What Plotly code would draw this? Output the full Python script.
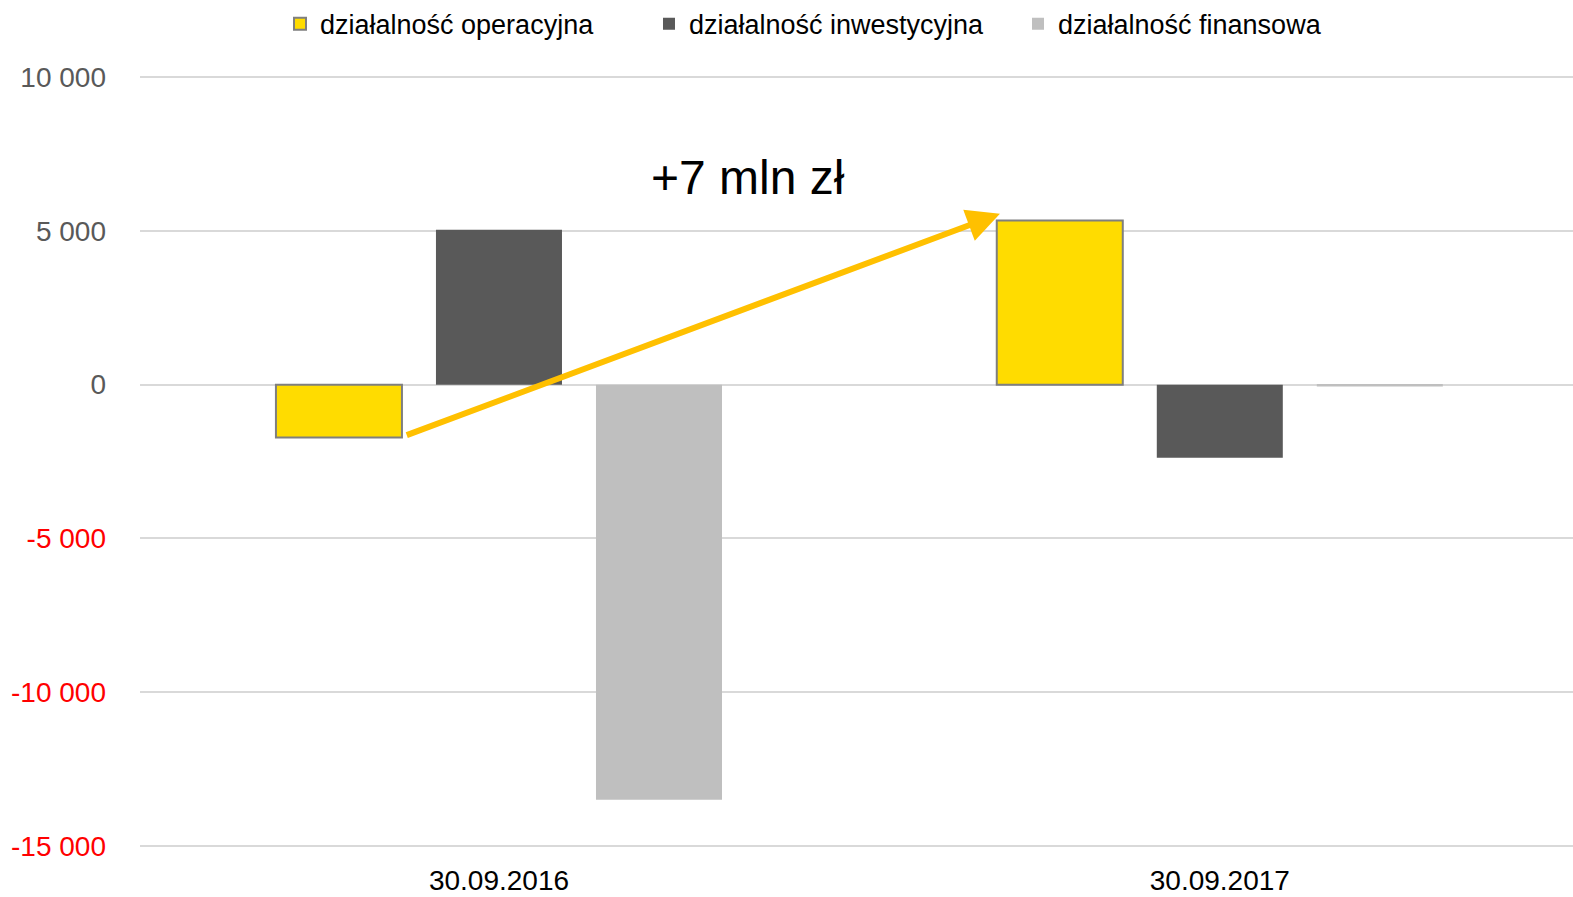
import plotly.graph_objects as go

categories = ["30.09.2016", "30.09.2017"]
series_names = ["działalność operacyjna", "działalność inwestycyjna", "działalność finansowa"]
operacyjna = [-1720, 5340]
inwestycyjna = [5040, -2380]
finansowa = [-13500, -60]
tick_vals = [10000, 5000, 0, -5000, -10000, -15000]
tick_text = ["10 000", "5 000", "0", "-5 000", "-10 000", "-15 000"]
arrow_label = "+7 mln zł"

colors = ["#FFDC00", "#595959", "#BFBFBF"]
line_colors = ["#7F7F7F", "#595959", "#BFBFBF"]
line_widths = [2, 0, 0]

fig = go.Figure()
for name, vals, c, lc, lw in zip(series_names, [operacyjna, inwestycyjna, finansowa], colors, line_colors, line_widths):
    fig.add_trace(go.Bar(
        x=categories, y=vals, name=name,
        marker=dict(color=c, line=dict(color=lc, width=lw)),
    ))

def tick_label(v, t):
    col = "#FF0000" if v < 0 else "#595959"
    return f"<span style='color:{col}'>{t}</span>"

fig.update_layout(
    width=1573, height=897,
    margin=dict(l=140, r=0, t=76, b=50, autoexpand=False),
    paper_bgcolor="white", plot_bgcolor="white",
    barmode="group", bargap=0.334, bargroupgap=0.2125,
    font=dict(family="Liberation Sans, Arial, sans-serif", color="#000000"),
    showlegend=True,
    legend=dict(orientation="h", xref="container", yref="container",
                x=0.178, xanchor="left", y=0.973, yanchor="middle",
                font=dict(size=27, color="#000000"), traceorder="normal",
                entrywidth=324, entrywidthmode="pixels",
                itemwidth=30, bgcolor="rgba(0,0,0,0)"),
    xaxis=dict(range=[-0.498, 1.49], showgrid=False, showline=False, zeroline=False, ticks="",
               tickfont=dict(size=28, color="#000000"), ticklabelstandoff=14,
               automargin=False),
    yaxis=dict(range=[-15040, 10040], tickvals=tick_vals,
               ticktext=[tick_label(v, t) for v, t in zip(tick_vals, tick_text)],
               showgrid=True, gridcolor="#D9D9D9", gridwidth=2,
               zeroline=True, zerolinecolor="#D9D9D9", zerolinewidth=2,
               showline=False, ticks="", tickfont=dict(size=28, color="#595959"),
               ticklabelstandoff=33, automargin=False),
)

# arrow from 2016 operating result to 2017 operating result
fig.add_annotation(
    x=0.695, y=5560, xref="x", yref="y",
    ax=-0.13, ay=-1660, axref="x", ayref="y",
    text="", showarrow=True, arrowhead=2, arrowsize=1.1, arrowwidth=6,
    arrowcolor="#FFC000", standoff=0, startstandoff=0,
)
fig.add_annotation(
    x=0.345, y=6730, xref="x", yref="y", text=arrow_label, showarrow=False,
    font=dict(size=48, color="#000000", family="Liberation Sans, Arial, sans-serif"),
)

fig.write_html("out.html", config={"displayModeBar": False},
               post_script="document.body.style.margin='0';document.body.style.overflow='hidden';")
